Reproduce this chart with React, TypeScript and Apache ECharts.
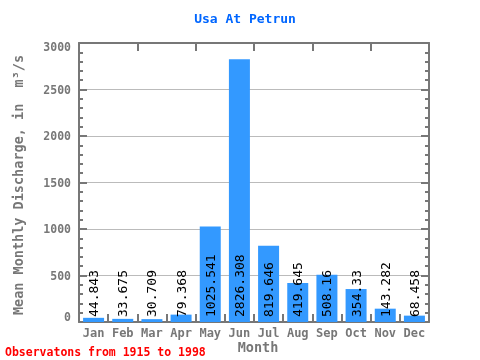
import React, { useEffect, useRef } from "react";
import * as echarts from "echarts";

const months = ["Jan", "Feb", "Mar", "Apr", "May", "Jun", "Jul", "Aug", "Sep", "Oct", "Nov", "Dec"];
const discharge = [44.843, 33.675, 30.709, 79.368, 1025.541, 2826.308, 819.646, 419.645, 508.16, 354.33, 143.282, 68.458];
const yTicks = { min: 0, max: 3000, interval: 500 };

const titleText = "Usa At Petrun";
const yName = "Mean Monthly Discharge, in  m³/s";
const xName = "Month";
const footer = "Observatons from 1915 to 1998";

const MONO = "'DejaVu Sans Mono', monospace";
const AXIS = "#777777";

const tick = () => ({ show: true, inside: true, length: 8, lineStyle: { color: AXIS, width: 2 } });
const minor = () => ({ show: true, splitNumber: 5, length: 4, lineStyle: { color: AXIS, width: 2 } });
const line = () => ({ show: true, onZero: false, lineStyle: { color: AXIS, width: 2 } });
const lblFont = { color: AXIS, fontFamily: MONO, fontSize: 11.5, fontWeight: "bold" as const };

export default function App() {
  const ref = useRef<HTMLDivElement>(null);
  useEffect(() => {
    if (!ref.current) return;
    const chart = echarts.init(ref.current, null, { renderer: "svg" });
    chart.setOption({
      animation: false,
      grid: { left: 79, right: 51, top: 43, bottom: 38 },
      xAxis: [
        {
          type: "category",
          data: months,
          position: "bottom",
          axisLine: line(),
          axisTick: tick(),
          axisLabel: { color: AXIS, fontFamily: MONO, fontSize: 12, fontWeight: "bold", margin: 5 },
        },
        {
          type: "category",
          data: months,
          position: "top",
          axisLine: line(),
          axisTick: tick(),
          axisLabel: { show: false },
        },
      ],
      yAxis: [
        {
          type: "value",
          min: yTicks.min,
          max: yTicks.max,
          interval: yTicks.interval,
          position: "left",
          axisLine: line(),
          axisTick: tick(),
          minorTick: minor(),
          splitLine: { show: true, lineStyle: { color: "#bbbbbb", width: 1 } },
          axisLabel: {
            ...lblFont,
            margin: 8,
            formatter: (v: number) =>
              v === yTicks.max ? `{t|${v}}` : v === yTicks.min ? `{b|${v}}` : `{n|${v}}`,
            rich: {
              t: { ...lblFont, padding: [8, 0, 0, 0] },
              b: { ...lblFont, padding: [0, 0, 10, 0] },
              n: { ...lblFont },
            },
          },
        },
        {
          type: "value",
          min: yTicks.min,
          max: yTicks.max,
          interval: yTicks.interval,
          position: "right",
          axisLine: line(),
          axisTick: tick(),
          minorTick: minor(),
          splitLine: { show: false },
          axisLabel: { show: false },
        },
      ],
      series: [
        {
          type: "bar",
          data: discharge,
          xAxisIndex: 0,
          yAxisIndex: 0,
          barWidth: "72%",
          itemStyle: { color: "#3399ff" },
          label: {
            show: true,
            position: "insideBottom",
            rotate: 90,
            align: "left",
            verticalAlign: "middle",
            distance: 5,
            color: "#000000",
            fontFamily: MONO,
            fontSize: 13,
            formatter: (p: any) => String(p.value),
          },
        },
      ],
      graphic: [
        {
          type: "text",
          x: 245,
          y: 18,
          style: {
            text: titleText,
            fill: "#0066ff",
            font: `bold 13px ${MONO}`,
            align: "center",
            verticalAlign: "middle",
          },
        },
        {
          type: "text",
          x: 18,
          y: 185,
          rotation: Math.PI / 2,
          style: {
            text: yName,
            fill: AXIS,
            font: `bold 13.5px ${MONO}`,
            align: "center",
            verticalAlign: "middle",
          },
        },
        {
          type: "text",
          x: 258,
          y: 347,
          style: {
            text: xName,
            fill: AXIS,
            font: `bold 13.5px ${MONO}`,
            align: "center",
            verticalAlign: "middle",
          },
        },
        {
          type: "text",
          x: 5,
          y: 352,
          style: {
            text: footer,
            fill: "#ff0000",
            font: `bold 11.5px ${MONO}`,
            align: "left",
            verticalAlign: "middle",
          },
        },
      ],
    });
    return () => chart.dispose();
  }, []);
  return <div ref={ref} style={{ position: "fixed", left: 0, top: 0, width: 480, height: 360 }} />;
}
